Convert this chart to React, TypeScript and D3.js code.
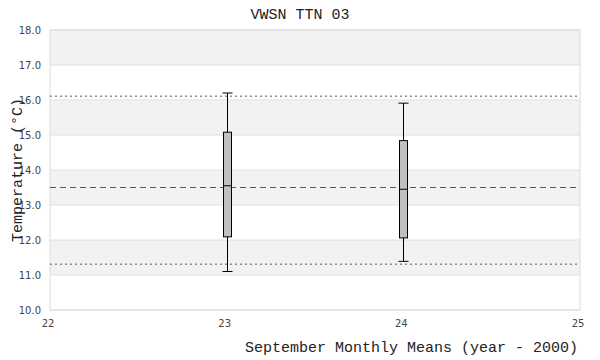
import React from "react";
import * as d3 from "d3";

const title = "VWSN TTN 03";
const xLabel = "September Monthly Means (year - 2000)";
const yLabel = "Temperature (°C)";
const years = [23, 24];
const whiskerLow = [11.1, 11.39];
const q1 = [12.09, 12.06];
const medians = [13.55, 13.45];
const q3 = [15.08, 14.84];
const whiskerHigh = [16.2, 15.91];
const refMean = 13.5;
const refLow = 11.31;
const refHigh = 16.11;
const xTicks = [22, 23, 24, 25];
const yTicks = [10, 11, 12, 13, 14, 15, 16, 17, 18];

export default function App() {
  const W = 600, H = 360;
  const L = 50, R = 580, T = 30, B = 310;
  const x = d3.scaleLinear().domain([22, 25]).range([L, R]);
  const y = d3.scaleLinear().domain([10, 18]).range([B, T]);
  const mono = "'Liberation Mono', monospace";
  const sans = "'DejaVu Sans', sans-serif";
  const bw = 8, cap = 5;
  return (
    <svg width={W} height={H} style={{ position: "absolute", left: 0, top: 0 }}>
      <rect x={0} y={0} width={W} height={H} fill="#fff" />
      {yTicks.slice(0, -1).map((v, i) =>
        i % 2 === 1 ? (
          <rect key={"b" + v} x={L} y={y(v + 1)} width={R - L} height={y(v) - y(v + 1)} fill="#f2f2f2" />
        ) : null
      )}
      {yTicks.map((v) => (
        <line key={"g" + v} x1={L} x2={R} y1={y(v)} y2={y(v)} stroke="#e0e0e0" strokeWidth={1} />
      ))}
      <rect x={L} y={T} width={R - L} height={B - T} fill="none" stroke="#dcdcdc" strokeWidth={1} />
      <line x1={L} x2={R} y1={y(refHigh)} y2={y(refHigh)} stroke="#555" strokeDasharray="2,3" />
      <line x1={L} x2={R} y1={y(refLow)} y2={y(refLow)} stroke="#555" strokeDasharray="2,3" />
      <line x1={L} x2={R} y1={y(refMean)} y2={y(refMean)} stroke="#555" strokeDasharray="6,4" />
      {years.map((yr, i) => {
        const cx = Math.round(x(yr)) + 0.5;
        return (
          <g key={yr}>
            <line x1={cx} x2={cx} y1={y(whiskerHigh[i])} y2={y(whiskerLow[i])} stroke="#000" />
            <line x1={cx - cap} x2={cx + cap} y1={y(whiskerHigh[i])} y2={y(whiskerHigh[i])} stroke="#000" />
            <line x1={cx - cap} x2={cx + cap} y1={y(whiskerLow[i])} y2={y(whiskerLow[i])} stroke="#000" />
            <rect x={cx - bw / 2} y={y(q3[i])} width={bw} height={y(q1[i]) - y(q3[i])} fill="#c0c0c0" stroke="#000" />
            <line x1={cx - bw / 2} x2={cx + bw / 2} y1={y(medians[i])} y2={y(medians[i])} stroke="#000" />
          </g>
        );
      })}
      {yTicks.map((v) => (
        <text key={"yt" + v} x={41} y={y(v) + 4} textAnchor="end" fontFamily={sans} fontSize={10} fill="#444">
          {v.toFixed(1)}
        </text>
      ))}
      {xTicks.map((v) => (
        <text key={"xt" + v} x={x(v) - 2} y={327} textAnchor="middle" fontFamily={sans} fontSize={10} fill="#444">
          {v}
        </text>
      ))}
      <text x={300} y={19} textAnchor="middle" fontFamily={mono} fontSize={15} fill="#222">{title}</text>
      <text x={578} y={352} textAnchor="end" fontFamily={mono} fontSize={15} fill="#222">{xLabel}</text>
      <text transform="translate(22,170) rotate(-90)" textAnchor="middle" fontFamily={mono} fontSize={15} fill="#222">{yLabel}</text>
    </svg>
  );
}
